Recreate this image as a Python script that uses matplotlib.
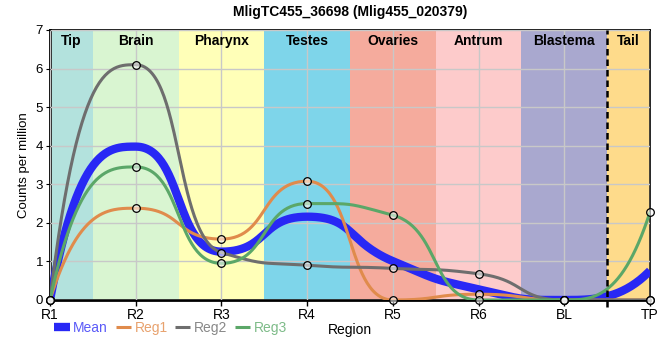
import matplotlib.pyplot as plt
import numpy as np

plt.rcParams['font.family'] = ['Liberation Sans', 'DejaVu Sans']
plt.rcParams['lines.solid_capstyle'] = 'butt'

regions = ['R1', 'R2', 'R3', 'R4', 'R5', 'R6', 'BL', 'TP']
reg1 = [0.0, 2.38, 1.58, 3.08, 0.0, 0.15, 0.0, 0.0]
reg2 = [0.0, 6.10, 1.23, 0.90, 0.82, 0.68, 0.0, 0.0]
reg3 = [0.0, 3.45, 0.95, 2.50, 2.20, 0.0, 0.0, 2.28]
mean = list(np.mean([reg1, reg2, reg3], axis=0))

tissues = ['Tip', 'Brain', 'Pharynx', 'Testes', 'Ovaries', 'Antrum', 'Blastema', 'Tail']
tissue_colors = ['#b3e2dd', '#d9f5d1', '#ffffb8', '#7ed5ea', '#f5ab9d',
                 '#fdcbcb', '#a9a8cf', '#fedb8b']
# band edges in x index units
tissue_edges = [0, 0.5, 1.5, 2.5, 3.5, 4.5, 5.5, 6.5, 7]


def smooth(x, y, n=60, a=0.55):
    # monotone bezier through the points, only used to draw the line
    x = np.asarray(x, float)
    y = np.asarray(y, float)
    h = np.diff(x)
    s = np.diff(y) / h
    t = np.zeros(len(x))
    for i in range(1, len(x) - 1):
        s0, s1 = s[i - 1], s[i]
        p = (s0 * h[i] + s1 * h[i - 1]) / (h[i - 1] + h[i])
        t[i] = (np.sign(s0) + np.sign(s1)) * min(abs(s0), abs(s1), 0.5 * abs(p))
    last = len(x) - 2
    xs, ys = [], []
    u = np.linspace(0, 1, n)
    for i in range(len(x) - 1):
        k = 1 / 3 if i in (0, last) else a
        p0 = (x[i], y[i])
        p3 = (x[i + 1], y[i + 1])
        p1 = (x[i] + k * h[i], y[i] + t[i] * k * h[i])
        p2 = (x[i + 1] - k * h[i], y[i + 1] - t[i + 1] * k * h[i])
        if i == 0:
            p1 = (p1[0], p2[1])
        if i == last:
            p2 = (p2[0], p1[1])
        b = [(1 - u)**3, 3 * u * (1 - u)**2, 3 * u**2 * (1 - u), u**3]
        xs.extend(b[0] * p0[0] + b[1] * p1[0] + b[2] * p2[0] + b[3] * p3[0])
        ys.extend(b[0] * p0[1] + b[1] * p1[1] + b[2] * p2[1] + b[3] * p3[1])
    return np.array(xs), np.array(ys)


xi = np.arange(len(regions))

fig = plt.figure(figsize=(6.6, 3.6), dpi=100)
ax = fig.add_axes([50 / 660, 60 / 360, 600 / 660, 270 / 360])

for i, name in enumerate(tissues):
    ax.axvspan(tissue_edges[i], tissue_edges[i + 1], color=tissue_colors[i], lw=0, zorder=0)
    ax.text((tissue_edges[i] + tissue_edges[i + 1]) / 2, 6.72, name, ha='center', va='center',
            fontsize=10, fontweight='bold', zorder=5)

ax.grid(True, color='#c8c8c8', lw=1, zorder=1)
ax.set_axisbelow(False)
ax.axvline(6.5, ymin=-0.025, color='black', ls=(0, (2.6, 1.6)), lw=1.8, zorder=6,
           clip_on=False)

ax.plot(*smooth(xi, mean), color='#2828f5', lw=6, zorder=3, label='Mean')
colors = ['#e08b4c', '#6e6e6e', '#5ba768']
for vals, c, lab in zip([reg1, reg2, reg3], colors, ['Reg1', 'Reg2', 'Reg3']):
    ax.plot(*smooth(xi, vals), color=c, lw=2.2, zorder=4, label=lab)
    ax.plot(xi, vals, 'o', ms=5.5, mfc=(1, 1, 1, 0.55), mec='black', mew=0.9, zorder=7,
            clip_on=False)

ax.set_xlim(0, 7)
ax.set_ylim(0, 7)
ax.set_xticks(xi)
ax.set_xticklabels(regions, fontsize=10)
ax.set_yticks(range(8))
ax.tick_params(axis='y', labelsize=9.5, length=3, pad=2)
ax.tick_params(axis='x', length=4, width=1, pad=2)
for sp in ['left', 'bottom']:
    ax.spines[sp].set_linewidth(2)
for sp in ['top', 'right']:
    ax.spines[sp].set_linewidth(1.2)
ax.set_ylabel('Counts per million', fontsize=9.5)
ax.set_xlabel('Region', fontsize=10, labelpad=2)
ax.xaxis.set_label_coords(0.5, -0.085)
ax.set_title('MligTC455_36698 (Mlig455_020379)', fontsize=10, fontweight='bold', pad=10)

leg = fig.legend(loc='center left', bbox_to_anchor=(42 / 660, 1 - 328 / 360), ncol=4,
                 frameon=False, fontsize=10, handlelength=1.1,
                 handletextpad=0.25, columnspacing=0.55)
text_colors = ['#5a5af8', '#e8a26e', '#888888', '#7dbb88']
for txt, c in zip(leg.get_texts(), text_colors):
    txt.set_color(c)

fig.savefig('out.png', dpi=100)
